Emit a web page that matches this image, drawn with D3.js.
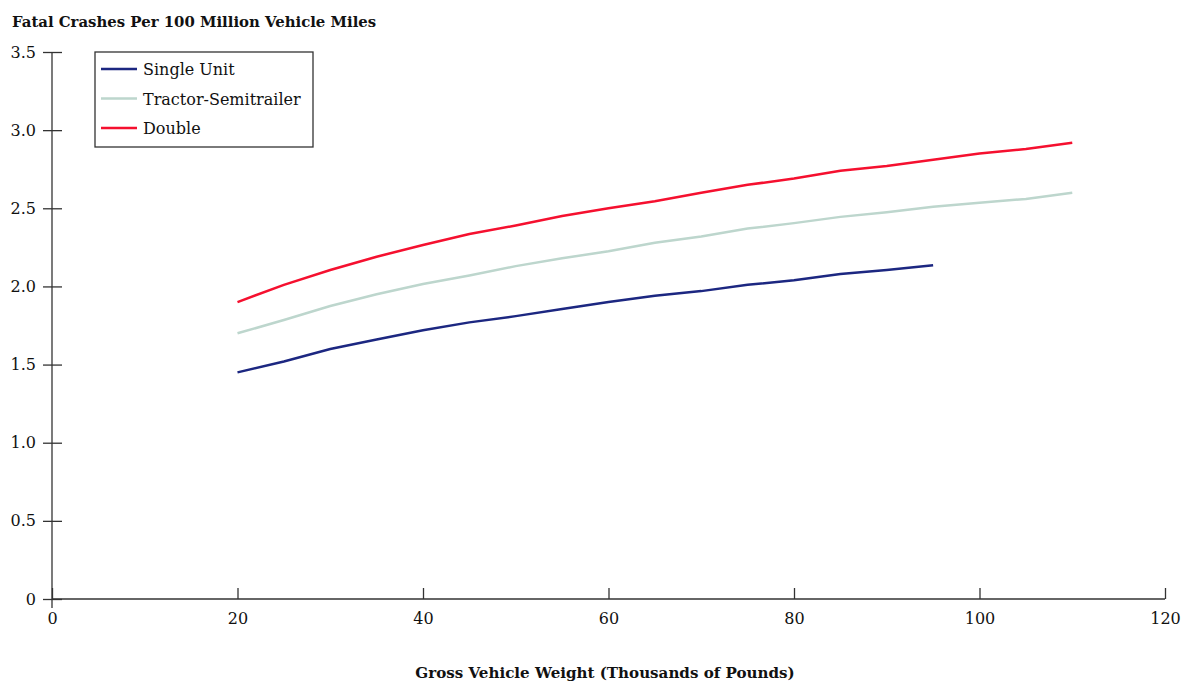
<!DOCTYPE html>
<html>
<head>
<meta charset="utf-8">
<script src="https://cdn.jsdelivr.net/npm/d3@7"></script>
<style>
  body { margin: 0; background: #fff; }
  svg { display: block; }
  text { font-family: "DejaVu Serif", serif; fill: #111; }
</style>
</head>
<body>
<svg id="chart" width="1182" height="682"></svg>
<script>
// ---- data ----
const weights = [20, 25, 30, 35, 40, 45, 50, 55, 60, 65, 70, 75, 80, 85, 90, 95, 100, 105, 110];
const singleUnit = [1.45, 1.52, 1.60, 1.66, 1.72, 1.77, 1.81, 1.855, 1.90, 1.94, 1.97, 2.01, 2.04, 2.08, 2.105, 2.135, null, null, null];
const tractorSemi = [1.70, 1.785, 1.875, 1.95, 2.015, 2.07, 2.13, 2.18, 2.225, 2.28, 2.32, 2.37, 2.405, 2.445, 2.475, 2.51, 2.535, 2.56, 2.60];
const double = [1.90, 2.01, 2.105, 2.19, 2.265, 2.335, 2.39, 2.45, 2.50, 2.545, 2.60, 2.65, 2.69, 2.74, 2.77, 2.81, 2.85, 2.88, 2.92];
const seriesNames = ["Single Unit", "Tractor-Semitrailer", "Double"];
const seriesColors = ["#1c2781", "#bdd6cd", "#f5102f"];
const xTicks = [0, 20, 40, 60, 80, 100, 120];
const yTicks = [0, 0.5, 1.0, 1.5, 2.0, 2.5, 3.0, 3.5];
const yTickLabels = ["0", "0.5", "1.0", "1.5", "2.0", "2.5", "3.0", "3.5"];
const titleText = "Fatal Crashes Per 100 Million Vehicle Miles";
const xAxisTitle = "Gross Vehicle Weight (Thousands of Pounds)";

const allSeries = [singleUnit, tractorSemi, double];

const svg = d3.select("#chart");
const x = d3.scaleLinear().domain([0, 120]).range([52, 1165]);
const y = d3.scaleLinear().domain([0, 3.5]).range([599, 52]);
const axisColor = "#333";

// title
svg.append("text").attr("x", 12).attr("y", 27)
  .attr("font-size", 14.9).attr("font-weight", "bold").text(titleText);

// x axis
const gx = svg.append("g").attr("transform", `translate(0,${y(0)})`)
  .call(d3.axisBottom(x).tickValues(xTicks).tickSize(-11).tickPadding(14).tickFormat(d3.format("d")));
gx.select(".domain").attr("stroke", axisColor).attr("stroke-width", 1.3).attr("d", `M${x(0)},0H${x(120)}`);
gx.selectAll(".tick line").attr("stroke", axisColor).attr("stroke-width", 1.3);
gx.selectAll(".tick text").attr("font-size", 16).attr("font-family", "DejaVu Serif").attr("fill", "#111");

// y axis
const gy = svg.append("g").attr("transform", `translate(${x(0)},0)`)
  .call(d3.axisLeft(y).tickValues(yTicks).tickSize(9).tickPadding(7)
    .tickFormat((d, i) => yTickLabels[i]));
gy.select(".domain").attr("stroke", axisColor).attr("stroke-width", 1.3)
  .attr("d", `M0,${y(3.5)}V${y(0) + 9}`);
gy.selectAll(".tick line").attr("stroke", axisColor).attr("stroke-width", 1.3).attr("x1", 10);
gy.selectAll(".tick text").attr("font-size", 16).attr("font-family", "DejaVu Serif").attr("fill", "#111");

// x axis title
svg.append("text").attr("x", 605).attr("y", 678).attr("text-anchor", "middle")
  .attr("font-size", 15.1).attr("font-weight", "bold").text(xAxisTitle);

// lines
const line = d3.line()
  .defined(d => d[1] != null)
  .x(d => x(d[0])).y(d => y(d[1]));
allSeries.forEach((vals, i) => {
  svg.append("path")
    .datum(weights.map((w, j) => [w, vals[j]]))
    .attr("fill", "none")
    .attr("stroke", seriesColors[i])
    .attr("stroke-width", 2.5)
    .attr("d", line);
});

// legend
const lg = svg.append("g");
lg.append("rect").attr("x", 95).attr("y", 52).attr("width", 218).attr("height", 95)
  .attr("fill", "#fff").attr("stroke", axisColor).attr("stroke-width", 1.3);
seriesNames.forEach((name, i) => {
  const yy = 69 + i * 29.5;
  lg.append("line").attr("x1", 101).attr("x2", 137).attr("y1", yy).attr("y2", yy)
    .attr("stroke", seriesColors[i]).attr("stroke-width", 2.5);
  lg.append("text").attr("x", 143).attr("y", yy + 6).attr("font-size", 16).text(name);
});
</script>
</body>
</html>
